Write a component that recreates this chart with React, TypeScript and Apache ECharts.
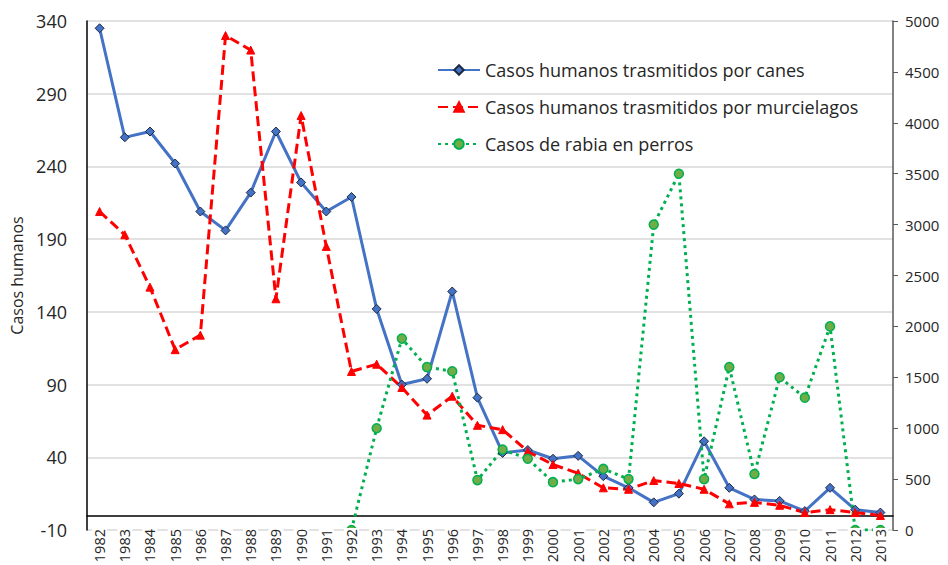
import React, { useEffect, useRef } from "react";
import * as echarts from "echarts";

const years = ["1982","1983","1984","1985","1986","1987","1988","1989","1990","1991","1992","1993","1994","1995","1996","1997","1998","1999","2000","2001","2002","2003","2004","2005","2006","2007","2008","2009","2010","2011","2012","2013"];

const canes = [335, 260, 264, 242, 209, 196, 222, 264, 229, 209, 219, 142, 90, 94, 154, 81, 43, 45, 39, 41, 27, 19, 9, 15, 51, 19, 11, 10, 3, 19, 4, 2];

const murcielagos = [209, 193, 157, 114, 124, 330, 320, 149, 275, 185, 99, 104, 88, 69, 82, 62, 59, 44, 35, 29, 19, 18, 24, 22, 18, 8, 9, 7, 2, 4, 2, 0];

const perros = [null, null, null, null, null, null, null, null, null, null, 0, 1000, 1880, 1600, 1560, 490, 790, 700, 470, 500, 600, 500, 3000, 3500, 500, 1600, 550, 1500, 1300, 2000, 0, 0];

const seriesNames = [
  "Casos humanos trasmitidos por canes",
  "Casos humanos trasmitidos por murcielagos",
  "Casos de rabia en perros",
];

const FONT = "'Open Sans', 'Noto Sans', sans-serif";

export default function App() {
  const ref = useRef<HTMLDivElement>(null);
  useEffect(() => {
    document.body.style.margin = "0";
    if (!ref.current) return;
    const chart = echarts.init(ref.current, null, { renderer: "svg" });
    chart.setOption({
      animation: false,
      backgroundColor: "#ffffff",
      textStyle: { fontFamily: FONT },
      grid: { left: 87, right: 55, top: 21, bottom: 35, containLabel: false, outerBoundsMode: "none" },
      legend: {
        orient: "vertical",
        left: 432,
        top: 56,
        itemWidth: 42,
        itemHeight: 12,
        itemGap: 19,
        textStyle: { fontSize: 18, color: "#262626", fontFamily: FONT },
        data: seriesNames,
      },
      xAxis: [
        {
          type: "category",
          data: years,
          boundaryGap: true,
          axisLine: { onZero: true, onZeroAxisIndex: 0, lineStyle: { color: "#000000", width: 1.5 } },
          axisTick: { show: false },
          axisLabel: { show: false },
        },
        {
          type: "category",
          data: years,
          boundaryGap: true,
          position: "bottom",
          z: 10,
          axisLine: { show: false, onZero: false },
          axisTick: { show: false },
          splitLine: { show: false },
          axisLabel: {
            rotate: 90,
            fontSize: 14.5,
            margin: -2,
            color: "#262626",
            fontFamily: FONT,
            interval: 0,
            backgroundColor: "#ffffff",
            padding: [0, 1, 0, 1],
          },
        },
      ],
      yAxis: [
        {
          type: "value",
          min: -10,
          max: 340,
          interval: 50,
          position: "left",
          name: "Casos humanos",
          nameLocation: "middle",
          nameGap: 62,
          nameTextStyle: { fontSize: 16, color: "#262626", fontFamily: FONT },
          axisLine: { show: true, lineStyle: { color: "#000000", width: 1.5 } },
          axisTick: { show: false },
          axisLabel: { fontSize: 18, margin: 20, color: "#262626", fontFamily: FONT },
          splitLine: { show: true, lineStyle: { color: "#D9D9D9", width: 1.5 } },
        },
        {
          type: "value",
          min: 0,
          max: 5000,
          interval: 500,
          position: "right",
          axisLine: { show: true, lineStyle: { color: "#595959", width: 1.5 } },
          axisTick: { show: true, inside: false, length: 5, lineStyle: { color: "#595959" } },
          axisLabel: { fontSize: 15, margin: 12, color: "#262626", fontFamily: FONT, formatter: (v: number) => String(v) },
          splitLine: { show: false },
        },
      ],
      series: [
        {
          name: seriesNames[0],
          type: "line",
          xAxisIndex: 0,
          yAxisIndex: 0,
          data: canes,
          symbol: "diamond",
          symbolSize: 9,
          lineStyle: { color: "#4472C4", width: 3 },
          itemStyle: { color: "#4472C4", borderColor: "#1F2A44", borderWidth: 1 },
        },
        {
          name: seriesNames[1],
          type: "line",
          xAxisIndex: 0,
          yAxisIndex: 0,
          data: murcielagos,
          symbol: "triangle",
          symbolSize: 8,
          lineStyle: { color: "#FF0000", width: 3, type: [10, 5] },
          itemStyle: { color: "#FF0000", borderColor: "#FF0000", borderWidth: 1 },
        },
        {
          name: seriesNames[2],
          type: "line",
          xAxisIndex: 0,
          yAxisIndex: 1,
          data: perros,
          connectNulls: false,
          symbol: "circle",
          symbolSize: 9,
          lineStyle: { color: "#00B050", width: 3, type: [3, 4] },
          itemStyle: { color: "#70AD47", borderColor: "#00B050", borderWidth: 1.5 },
        },
      ],
    });
    return () => chart.dispose();
  }, []);
  return <div ref={ref} style={{ width: 948, height: 565 }} />;
}
